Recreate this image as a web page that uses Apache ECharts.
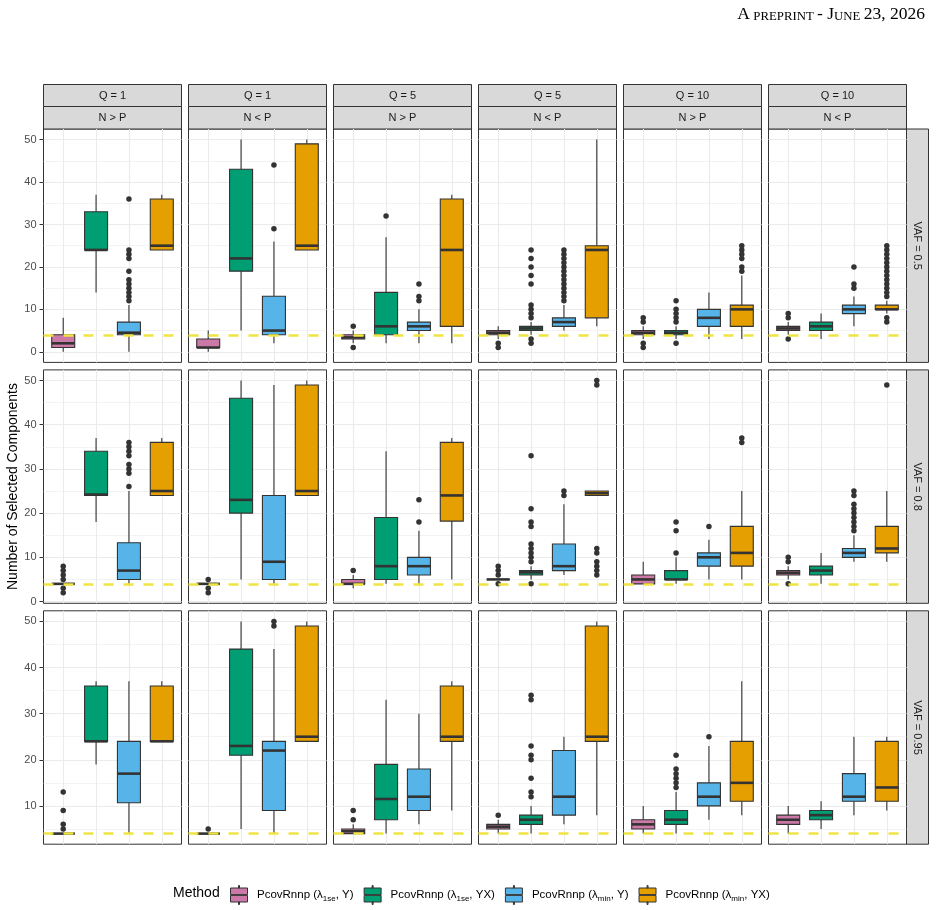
<!DOCTYPE html>
<html>
<head>
<meta charset="utf-8">
<script src="https://cdn.jsdelivr.net/npm/echarts@6/dist/echarts.min.js"></script>
<style>
  html, body { margin: 0; padding: 0; background: #fff; }
  #chart { width: 941px; height: 910px; }
</style>
</head>
<body>
<div id="chart"></div>
<script>
// ---- data ----
const methods = ['PcovRnnp (λ1se, Y)', 'PcovRnnp (λ1se, YX)', 'PcovRnnp (λmin, Y)', 'PcovRnnp (λmin, YX)'];
const methodColors = ['#CC79A7', '#009E73', '#56B4E9', '#E69F00'];
const qLabels = ['Q = 1', 'Q = 1', 'Q = 5', 'Q = 5', 'Q = 10', 'Q = 10'];
const npLabels = ['N > P', 'N < P', 'N > P', 'N < P', 'N > P', 'N < P'];
const vafLabels = ['VAF = 0.5', 'VAF = 0.8', 'VAF = 0.95'];
const yMajor = [0, 10, 20, 30, 40, 50];
const yMinor = [5, 15, 25, 35, 45];
const xBreaks = [1, 2, 3, 4];
const rowLimits = [[-2.5, 52.5], [-0.4, 52.4], [1.7, 52.3]];
const trueComponents = 4;

// [min, q1, median, q3, max] per panel (column) per method
const statsVaf05 = [
  [[0, 1, 2, 4, 8], [14, 24, 24, 33, 37], [0, 4, 4.5, 7, 11], [24, 24, 25, 36, 37]],
  [[0, 1, 1, 3, 5], [5, 19, 22, 43, 50], [2, 4, 5, 13.1, 26], [24, 24, 25, 49, 50]],
  [[2, 3, 3.4, 4, 5], [2, 4, 6, 14, 27], [2, 5, 6, 7, 10], [2, 6, 24, 36, 37]],
  [[3, 4, 4.5, 5, 6], [4, 5, 5.5, 6, 7], [5, 6, 7, 8, 11], [6, 8, 24, 25, 50]],
  [[3, 4, 4.5, 5, 6], [3, 4, 4.5, 5, 6], [3, 6, 8, 10, 14], [3, 6, 10, 11, 18]],
  [[4, 5, 5.5, 6, 7], [3, 5, 6, 7, 9], [6, 9, 10, 11, 13], [9, 10, 10, 11, 12]]
];
const outVaf05 = [
  [[], [], [12, 13, 14, 15, 16, 17, 19, 22, 23, 24, 36], []],
  [[], [], [29, 44], []],
  [[1, 6], [32], [12, 13, 16], []],
  [[1, 2], [2, 3, 8, 9, 10, 11, 16, 18, 20, 22, 24], [12, 13, 14, 15, 16, 17, 18, 19, 20, 21, 22, 23, 24], []],
  [[1, 2, 7, 8], [2, 7, 8, 9, 10, 12], [], [19, 20, 22, 23, 24, 25]],
  [[3, 8, 9], [], [15, 16, 20], [7, 8, 13, 14, 15, 16, 17, 18, 19, 20, 21, 22, 23, 24, 25]]
];

const statsVaf08 = [
  [[4, 4, 4, 4, 4], [18, 24, 24.2, 34, 37], [4, 5, 7, 13.3, 25], [24, 24, 25, 36, 37]],
  [[4, 4, 4, 4, 4], [5, 20, 23, 46, 50], [4, 5, 9, 24, 49], [24, 24, 25, 49, 50]],
  [[3, 4, 4, 5, 6], [4, 5, 8, 19, 34], [4, 6, 8, 10, 16], [5, 18.2, 24, 36, 37]],
  [[5, 5, 5, 5, 5], [5, 6, 6.6, 7, 8], [6, 7, 8, 13, 22], [24, 24, 24.5, 25, 25]],
  [[4, 4, 5, 6, 9], [4, 5, 5, 7, 10], [5, 8, 10, 11, 14], [5, 8, 11, 17, 25]],
  [[5, 6, 6.5, 7, 8], [4, 6, 7, 8, 11], [9, 10, 11, 12, 15], [9, 11, 12, 17, 25]]
];
const outVaf08 = [
  [[2, 3, 5, 6, 7, 8], [], [26, 29, 30, 31, 33, 34, 35, 36], []],
  [[2, 3, 5], [], [], []],
  [[7], [], [18, 23], []],
  [[4, 6, 7, 8], [4, 9, 10, 11, 12, 13, 17, 18, 21, 33], [24, 25], [6, 7, 8, 9, 11, 12, 49, 50]],
  [[], [11, 16, 18], [17], [36, 37]],
  [[4, 9, 10], [], [16, 17, 18, 19, 20, 21, 22, 24, 25], [49]]
];

const statsVaf095 = [
  [[4, 4, 4, 4, 4], [19, 24, 24, 36, 37], [4, 10.7, 17, 24, 37], [24, 24, 24, 36, 37]],
  [[4, 4, 4, 4, 4], [5, 21, 23, 44, 50], [4, 9, 22, 24, 44], [24, 24, 25, 49, 50]],
  [[4, 4, 4.5, 5, 6], [4, 7, 11.5, 19, 33], [6, 9, 12, 18, 30], [9, 24, 25, 36, 37]],
  [[4, 5, 5.5, 6, 7], [4, 6, 7, 8, 10], [6, 8, 12, 22, 25], [8, 24, 25, 49, 50]],
  [[4, 5, 6, 7, 10], [4, 6, 7, 9, 13], [7, 10, 12, 15, 23], [8, 11, 15, 24, 37]],
  [[4, 6, 7, 8, 10], [5, 7, 8, 9, 11], [8, 11, 12, 17, 25], [9, 11, 14, 24, 25]]
];
const outVaf095 = [
  [[5, 6, 9, 13], [], [], []],
  [[5], [], [49, 50], []],
  [[7, 9], [], [], []],
  [[8], [12, 13, 16, 20, 21, 23, 33, 34], [], []],
  [[], [14, 15, 16, 17, 18, 21], [25], []],
  [[], [], [], []]
];

const rowStats = [statsVaf05, statsVaf08, statsVaf095];
const rowOut = [outVaf05, outVaf08, outVaf095];

// ---- layout ----
const FONT = '"Liberation Sans", Arial, sans-serif';
const PANEL_W = 138, PANEL_H = 233.4;
const panelLeft = c => 43.5 + 145 * c;
const panelTop = r => 129 + 240.9 * r;
const EDGE = '#333333';

function boxRender(color) {
  return function (params, api) {
    const x = api.value(0);
    const lo = api.coord([x, api.value(1)]);
    const q1 = api.coord([x, api.value(2)]);
    const md = api.coord([x, api.value(3)]);
    const q3 = api.coord([x, api.value(4)]);
    const hi = api.coord([x, api.value(5)]);
    const w = api.size([0.7, 0])[0];
    const cx = lo[0];
    const vline = (y1, y2) => ({
      type: 'line',
      shape: { x1: cx, y1: y1, x2: cx, y2: y2 },
      style: { stroke: EDGE, lineWidth: 1.1 }
    });
    return {
      type: 'group',
      children: [
        vline(hi[1], q3[1]),
        vline(q1[1], lo[1]),
        {
          type: 'rect',
          shape: { x: cx - w / 2, y: q3[1], width: w, height: Math.max(q1[1] - q3[1], 0) },
          style: { fill: color, stroke: EDGE, lineWidth: 1.1 }
        },
        {
          type: 'line',
          shape: { x1: cx - w / 2, y1: md[1], x2: cx + w / 2, y2: md[1] },
          style: { stroke: EDGE, lineWidth: 2.6 }
        }
      ]
    };
  };
}

const grids = [], xAxes = [], yAxes = [], series = [], elements = [];

for (let r = 0; r < 3; r++) {
  const [lo, hi] = rowLimits[r];
  const major = yMajor.filter(v => v >= lo && v <= hi);
  const minor = yMinor.filter(v => v >= lo && v <= hi);
  for (let c = 0; c < 6; c++) {
    const i = r * 6 + c;
    grids.push({
      left: panelLeft(c), top: panelTop(r), width: PANEL_W, height: PANEL_H,
      show: true, borderColor: EDGE, borderWidth: 1, backgroundColor: '#ffffff',
      containLabel: false, outerBoundsMode: 'none'
    });
    xAxes.push({
      gridIndex: i, type: 'value', min: 0.4, max: 4.6,
      axisLine: { show: false },
      axisLabel: { show: false, customValues: xBreaks },
      axisTick: { show: false, customValues: xBreaks },
      splitLine: { show: true, lineStyle: { color: '#ebebeb', width: 1.1 } }
    });
    yAxes.push({
      gridIndex: i, type: 'value', min: lo, max: hi, position: 'left',
      axisLine: { show: false },
      axisTick: { show: c === 0, length: 4, lineStyle: { color: EDGE, width: 1 }, customValues: major },
      axisLabel: {
        show: c === 0, customValues: major, margin: 7,
        fontSize: 11, fontFamily: FONT, color: '#4d4d4d'
      },
      splitLine: { show: true, lineStyle: { color: '#ebebeb', width: 1.1 } }
    });
    yAxes.push({
      gridIndex: i, type: 'value', min: lo, max: hi, position: 'left',
      axisLine: { show: false },
      axisTick: { show: false, customValues: minor },
      axisLabel: { show: false, customValues: minor },
      splitLine: { show: true, lineStyle: { color: '#ebebeb', width: 0.6 } }
    });

    rowStats[r][c].forEach((s, m) => {
      series.push({
        type: 'custom', name: methods[m],
        xAxisIndex: i, yAxisIndex: 2 * i,
        renderItem: boxRender(methodColors[m]),
        itemStyle: { color: methodColors[m] },
        encode: { x: 0, y: [1, 2, 3, 4, 5] },
        data: [[xBreaks[m]].concat(s)],
        z: 2, silent: true
      });
    });

    const pts = [];
    rowOut[r][c].forEach((vals, m) => vals.forEach(v => pts.push([xBreaks[m], v])));
    series.push({
      type: 'scatter', name: 'outliers',
      xAxisIndex: i, yAxisIndex: 2 * i,
      data: pts, symbol: 'circle', symbolSize: 5.5,
      itemStyle: { color: EDGE, borderWidth: 0, opacity: 1 },
      z: 3, silent: true,
      markLine: {
        silent: true, symbol: ['none', 'none'],
        label: { show: false },
        lineStyle: { color: '#F0E442', type: [10, 10], width: 2.5, opacity: 1 },
        emphasis: { disabled: true },
        data: [{ yAxis: trueComponents }]
      }
    });
  }
}

// facet strips
for (let c = 0; c < 6; c++) {
  const x = panelLeft(c);
  [[84.5, 22, qLabels[c]], [106.5, 22.5, npLabels[c]]].forEach(([y, h, t]) => {
    elements.push({
      type: 'rect', shape: { x: x, y: y, width: PANEL_W, height: h },
      style: { fill: '#d9d9d9', stroke: EDGE, lineWidth: 1 }
    });
    elements.push({
      type: 'text', x: x + PANEL_W / 2, y: y + h / 2,
      style: {
        text: t, fill: '#1a1a1a', font: '11px ' + FONT,
        align: 'center', verticalAlign: 'middle', textAlign: 'center', textVerticalAlign: 'middle'
      }
    });
  });
}
for (let r = 0; r < 3; r++) {
  const y = panelTop(r);
  elements.push({
    type: 'rect', shape: { x: 906.5, y: y, width: 22, height: PANEL_H },
    style: { fill: '#d9d9d9', stroke: EDGE, lineWidth: 1 }
  });
  elements.push({
    type: 'text', x: 917.5, y: y + PANEL_H / 2, rotation: -Math.PI / 2,
    style: {
      text: vafLabels[r], fill: '#1a1a1a', font: '11px ' + FONT,
      align: 'center', verticalAlign: 'middle', textAlign: 'center', textVerticalAlign: 'middle'
    }
  });
}

// y axis title
elements.push({
  type: 'text', x: 13, y: 486.5, rotation: Math.PI / 2,
  style: {
    text: 'Number of Selected Components', fill: '#000', font: '14px ' + FONT,
    align: 'center', verticalAlign: 'middle', textAlign: 'center', textVerticalAlign: 'middle'
  }
});
// legend title
elements.push({
  type: 'text', x: 173, y: 893.5,
  style: {
    text: 'Method', fill: '#000', font: '14px ' + FONT,
    align: 'left', verticalAlign: 'middle', textAlign: 'left', textVerticalAlign: 'middle'
  }
});
// running header
const SERIF = '"Liberation Serif", "DejaVu Serif", serif';
elements.push({
  type: 'text', x: 925, y: 13,
  style: {
    text: '{a|A} {b|PREPRINT} {a|- J}{b|UNE} {a|23, 2026}',
    align: 'right', verticalAlign: 'middle', textAlign: 'right', textVerticalAlign: 'middle',
    rich: {
      a: { fontSize: 17.5, fontFamily: SERIF, fill: '#000', color: '#000', lineHeight: 20, verticalAlign: 'bottom' },
      b: { fontSize: 12.8, fontFamily: SERIF, fill: '#000', color: '#000', lineHeight: 20, verticalAlign: 'bottom' }
    }
  }
});

const chart = echarts.init(document.getElementById('chart'), null, { renderer: 'canvas' });
chart.setOption({
  animation: false,
  backgroundColor: '#ffffff',
  grid: grids,
  xAxis: xAxes,
  yAxis: yAxes,
  legend: {
    data: methods,
    left: 230, top: 885, padding: 0,
    itemWidth: 18, itemHeight: 19, itemGap: 10,
    icon: 'path://M8.5,0h1v2.5h-1z M0.5,2.5h17v6.6h-17z M0.5,9.9h17v6.6h-17z M8.5,16.5h1v2.5h-1z',
    itemStyle: { borderColor: EDGE, borderWidth: 1 },
    selectedMode: false,
    textStyle: {
      fontFamily: FONT, fontSize: 11.5, color: '#000', padding: [0, 0, 0, 4],
      rich: {
        n: { fontFamily: FONT, fontSize: 11.5, color: '#000', lineHeight: 16, verticalAlign: 'middle' },
        sub: { fontFamily: FONT, fontSize: 8, color: '#000', lineHeight: 6, verticalAlign: 'bottom' }
      }
    },
    formatter: name => {
      const m = name.match(/^(.*λ)(1se|min)(.*)$/);
      return m ? '{n|' + m[1] + '}{sub|' + m[2] + '}{n|' + m[3] + '}' : name;
    }
  },
  graphic: { elements: elements },
  series: series
});
</script>
</body>
</html>
